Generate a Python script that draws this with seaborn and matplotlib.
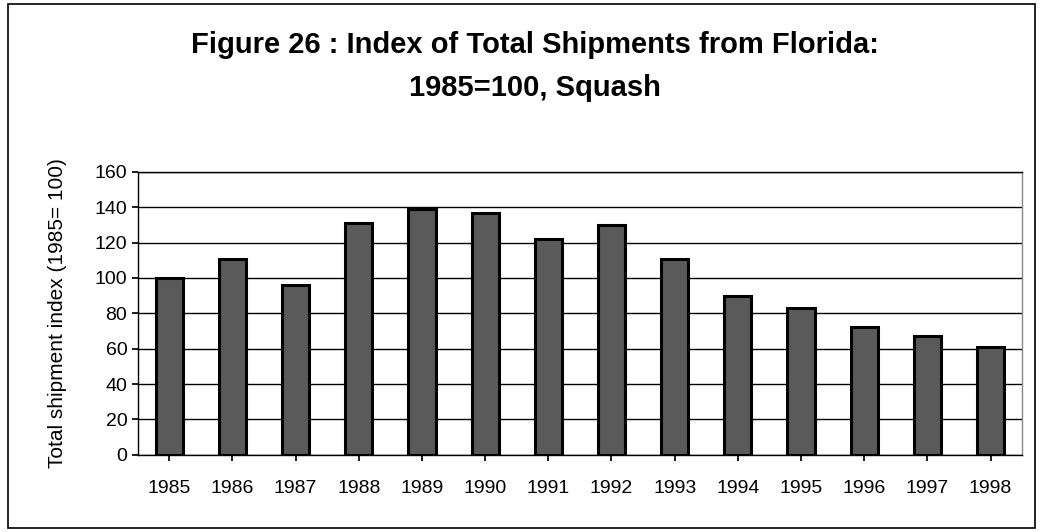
import matplotlib
matplotlib.use("Agg")
import matplotlib.pyplot as plt
import seaborn as sns
import pandas as pd
from matplotlib.patches import Rectangle

years = ["1985", "1986", "1987", "1988", "1989", "1990", "1991",
         "1992", "1993", "1994", "1995", "1996", "1997", "1998"]
index_values = [100, 111, 96, 131, 139, 137, 122, 130, 111, 90, 83, 72, 67, 61]

df = pd.DataFrame({"Year": years, "Index": index_values})

sns.set_theme(style="white")
plt.rcParams["font.family"] = ["Liberation Sans", "DejaVu Sans"]
plt.rcParams["text.color"] = "black"

fig = plt.figure(figsize=(10.43, 5.32), dpi=100)
ax = fig.add_axes([0.132, 0.145, 0.848, 0.532])

sns.barplot(data=df, x="Year", y="Index", color="#5a5a5a", width=0.43,
            edgecolor="black", linewidth=2.2, saturation=1, ax=ax)

ax.set_ylim(0, 160)
ax.set_yticks(range(0, 161, 20))
ax.set_xlim(-0.5, len(years) - 0.5)
ax.yaxis.grid(True, color="black", linewidth=1)
ax.set_axisbelow(True)
for s in ax.spines.values():
    s.set_color("black")
    s.set_linewidth(1)
ax.spines["right"].set_color("#888888")
ax.tick_params(axis="both", labelsize=14, colors="black", length=4,
               left=True, bottom=True)
ax.tick_params(axis="x", pad=14)
ax.set_xlabel("")
ax.set_ylabel("Total shipment index (1985= 100)", fontsize=15, labelpad=20,
              color="black")

fig.text(0.513, 0.915, "Figure 26 : Index of Total Shipments from Florida:",
         ha="center", va="center", fontsize=21, fontweight="bold", color="black")
fig.text(0.513, 0.835, "1985=100, Squash",
         ha="center", va="center", fontsize=21, fontweight="bold", color="black")

fig.patches.append(Rectangle((0.008, 0.008), 0.984, 0.984, transform=fig.transFigure,
                             fill=False, edgecolor="black", linewidth=1.2))

fig.savefig("out.png", dpi=100)
